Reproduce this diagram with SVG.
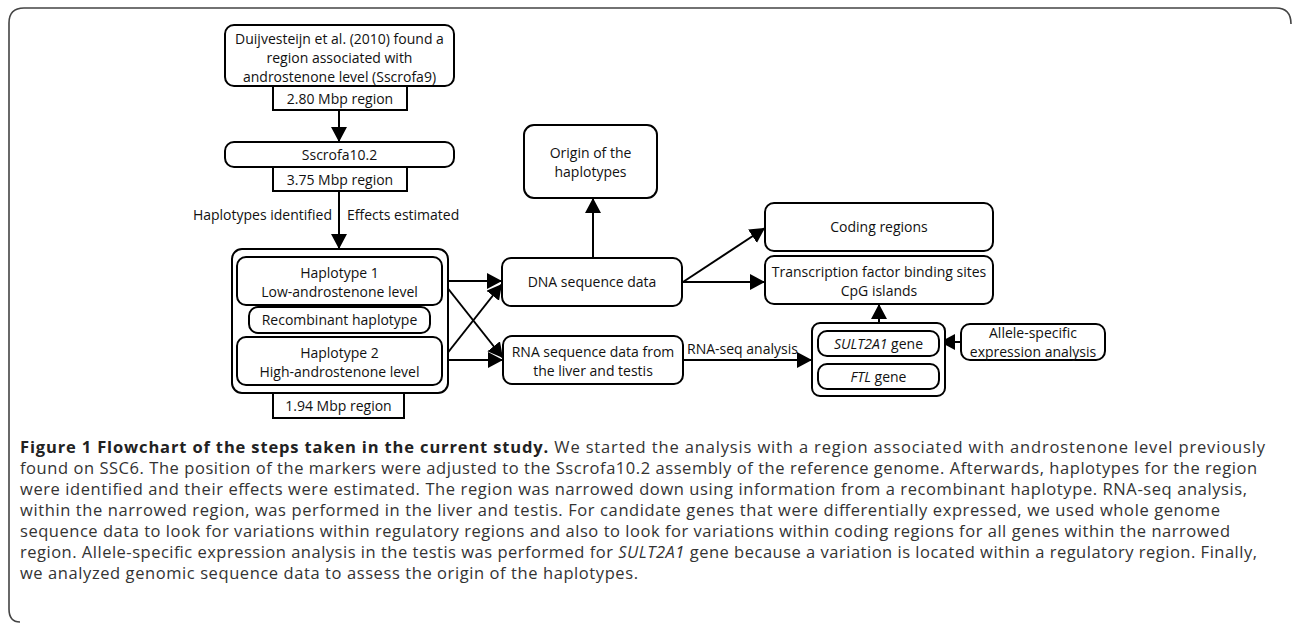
<svg xmlns="http://www.w3.org/2000/svg" width="1292" height="625" viewBox="0 0 1292 625">
<defs>
<marker id="ah" markerUnits="userSpaceOnUse" markerWidth="16" markerHeight="18" refX="15" refY="8" orient="auto">
<path d="M0,0 L15,8 L0,16 Z" fill="#000"/>
</marker>
<style>
.b{fill:#fff;stroke:#000;stroke-width:2}
.t{font-family:"Open Sans","Noto Sans",sans-serif;font-size:14px;fill:#111;text-anchor:middle}
.l{font-family:"Open Sans","Noto Sans",sans-serif;font-size:14px;fill:#111}
.c{stroke:#000;stroke-width:2;fill:none;marker-end:url(#ah)}
.cap{font-family:"Open Sans","Noto Sans",sans-serif;font-size:16.5px;fill:#333}
</style>
</defs>
<rect width="1292" height="625" fill="#fff"/>
<path d="M1291,24 Q1291,8 1276,8 L24,8 Q9,8 9,23 L9,609 Q9,622 20,622" fill="none" stroke="#444" stroke-width="1.6"/>

<g id="connectors">
<line class="c" x1="339" y1="110" x2="339" y2="142"/>
<line class="c" x1="339" y1="191" x2="339" y2="249"/>
<line class="c" x1="442" y1="281" x2="502" y2="281"/>
<line class="c" x1="442" y1="281" x2="503" y2="358"/>
<line class="c" x1="442" y1="360" x2="503" y2="360"/>
<line class="c" x1="442" y1="360" x2="502" y2="284"/>
<line class="c" x1="593" y1="258" x2="593" y2="198"/>
<line class="c" x1="683" y1="282" x2="765" y2="228"/>
<line class="c" x1="683" y1="282" x2="765" y2="282"/>
<line class="c" x1="683" y1="360" x2="812" y2="360"/>
<line class="c" x1="879" y1="323" x2="879" y2="304"/>
<line class="c" x1="961" y1="342" x2="940" y2="342"/>
<text class="l" x="332" y="220" text-anchor="end">Haplotypes identified</text>
<text class="l" x="347" y="220">Effects estimated</text>
<text class="l" x="687" y="354">RNA-seq analysis</text>
</g>

<g id="n-duij">
<rect class="b" x="225" y="25" width="229" height="61" rx="9"/>
<text class="t" x="339.5" y="44">Duijvesteijn et al. (2010) found a</text>
<text class="t" x="339.5" y="63">region associated with</text>
<text class="t" x="339.5" y="82">androstenone level (Sscrofa9)</text>
</g>
<g id="n-280">
<rect class="b" x="273" y="86" width="134" height="24"/>
<text class="t" x="340" y="104">2.80 Mbp region</text>
</g>
<g id="n-sscrofa">
<rect class="b" x="225" y="142" width="229" height="25" rx="9"/>
<text class="t" x="339.5" y="160">Sscrofa10.2</text>
</g>
<g id="n-375">
<rect class="b" x="273" y="167" width="134" height="24"/>
<text class="t" x="340" y="185">3.75 Mbp region</text>
</g>
<g id="n-hapgroup">
<rect class="b" x="232" y="249" width="216" height="144" rx="10"/>
</g>
<g id="n-hap1">
<rect class="b" x="237" y="257" width="205" height="48" rx="9"/>
<text class="t" x="339.5" y="278">Haplotype 1</text>
<text class="t" x="339.5" y="297">Low-androstenone level</text>
</g>
<g id="n-recomb">
<rect class="b" x="249" y="307" width="181" height="26" rx="9"/>
<text class="t" x="339.5" y="325">Recombinant haplotype</text>
</g>
<g id="n-hap2">
<rect class="b" x="237" y="337" width="205" height="48" rx="9"/>
<text class="t" x="339.5" y="358">Haplotype 2</text>
<text class="t" x="339.5" y="377">High-androstenone level</text>
</g>
<g id="n-194">
<rect class="b" x="273" y="393" width="131" height="25"/>
<text class="t" x="338.5" y="411">1.94 Mbp region</text>
</g>
<g id="n-dna">
<rect class="b" x="502" y="258" width="180" height="48" rx="9"/>
<text class="t" x="592" y="287">DNA sequence data</text>
</g>
<g id="n-rna">
<rect class="b" x="503" y="336" width="180" height="48" rx="9"/>
<text class="t" x="593" y="357">RNA sequence data from</text>
<text class="t" x="593" y="376">the liver and testis</text>
</g>
<g id="n-origin">
<rect class="b" x="524" y="125" width="133" height="73" rx="10"/>
<text class="t" x="590.5" y="158">Origin of the</text>
<text class="t" x="590.5" y="177">haplotypes</text>
</g>
<g id="n-coding">
<rect class="b" x="765" y="203" width="228" height="48" rx="9"/>
<text class="t" x="879" y="232">Coding regions</text>
</g>
<g id="n-tf">
<rect class="b" x="765" y="256" width="228" height="48" rx="9"/>
<text class="t" x="879" y="277">Transcription factor binding sites</text>
<text class="t" x="879" y="296">CpG islands</text>
</g>
<g id="n-genes">
<rect class="b" x="812" y="323" width="133" height="73" rx="8"/>
</g>
<g id="n-sult">
<rect class="b" x="818" y="331" width="121" height="25" rx="9"/>
<text class="t" x="878.5" y="349"><tspan font-style="italic">SULT2A1</tspan> gene</text>
</g>
<g id="n-ftl">
<rect class="b" x="818" y="364" width="121" height="25" rx="9"/>
<text class="t" x="878.5" y="382"><tspan font-style="italic">FTL</tspan> gene</text>
</g>
<g id="n-allele">
<rect class="b" x="961" y="324" width="144" height="36" rx="9"/>
<text class="t" x="1033" y="338">Allele-specific</text>
<text class="t" x="1033" y="357">expression analysis</text>
</g>

<g id="caption">
<text class="cap" x="20" y="453" textLength="1245"><tspan font-weight="bold" fill="#222">Figure 1 Flowchart of the steps taken in the current study.</tspan> We started the analysis with a region associated with androstenone level previously</text>
<text class="cap" x="20" y="474" textLength="1237">found on SSC6. The position of the markers were adjusted to the Sscrofa10.2 assembly of the reference genome. Afterwards, haplotypes for the region</text>
<text class="cap" x="20" y="495" textLength="1227">were identified and their effects were estimated. The region was narrowed down using information from a recombinant haplotype. RNA-seq analysis,</text>
<text class="cap" x="20" y="516" textLength="1200">within the narrowed region, was performed in the liver and testis. For candidate genes that were differentially expressed, we used whole genome</text>
<text class="cap" x="20" y="537" textLength="1210">sequence data to look for variations within regulatory regions and also to look for variations within coding regions for all genes within the narrowed</text>
<text class="cap" x="20" y="558" textLength="1237">region. Allele-specific expression analysis in the testis was performed for <tspan font-style="italic">SULT2A1</tspan> gene because a variation is located within a regulatory region. Finally,</text>
<text class="cap" x="20" y="579" textLength="618">we analyzed genomic sequence data to assess the origin of the haplotypes.</text>
</g>
</svg>
